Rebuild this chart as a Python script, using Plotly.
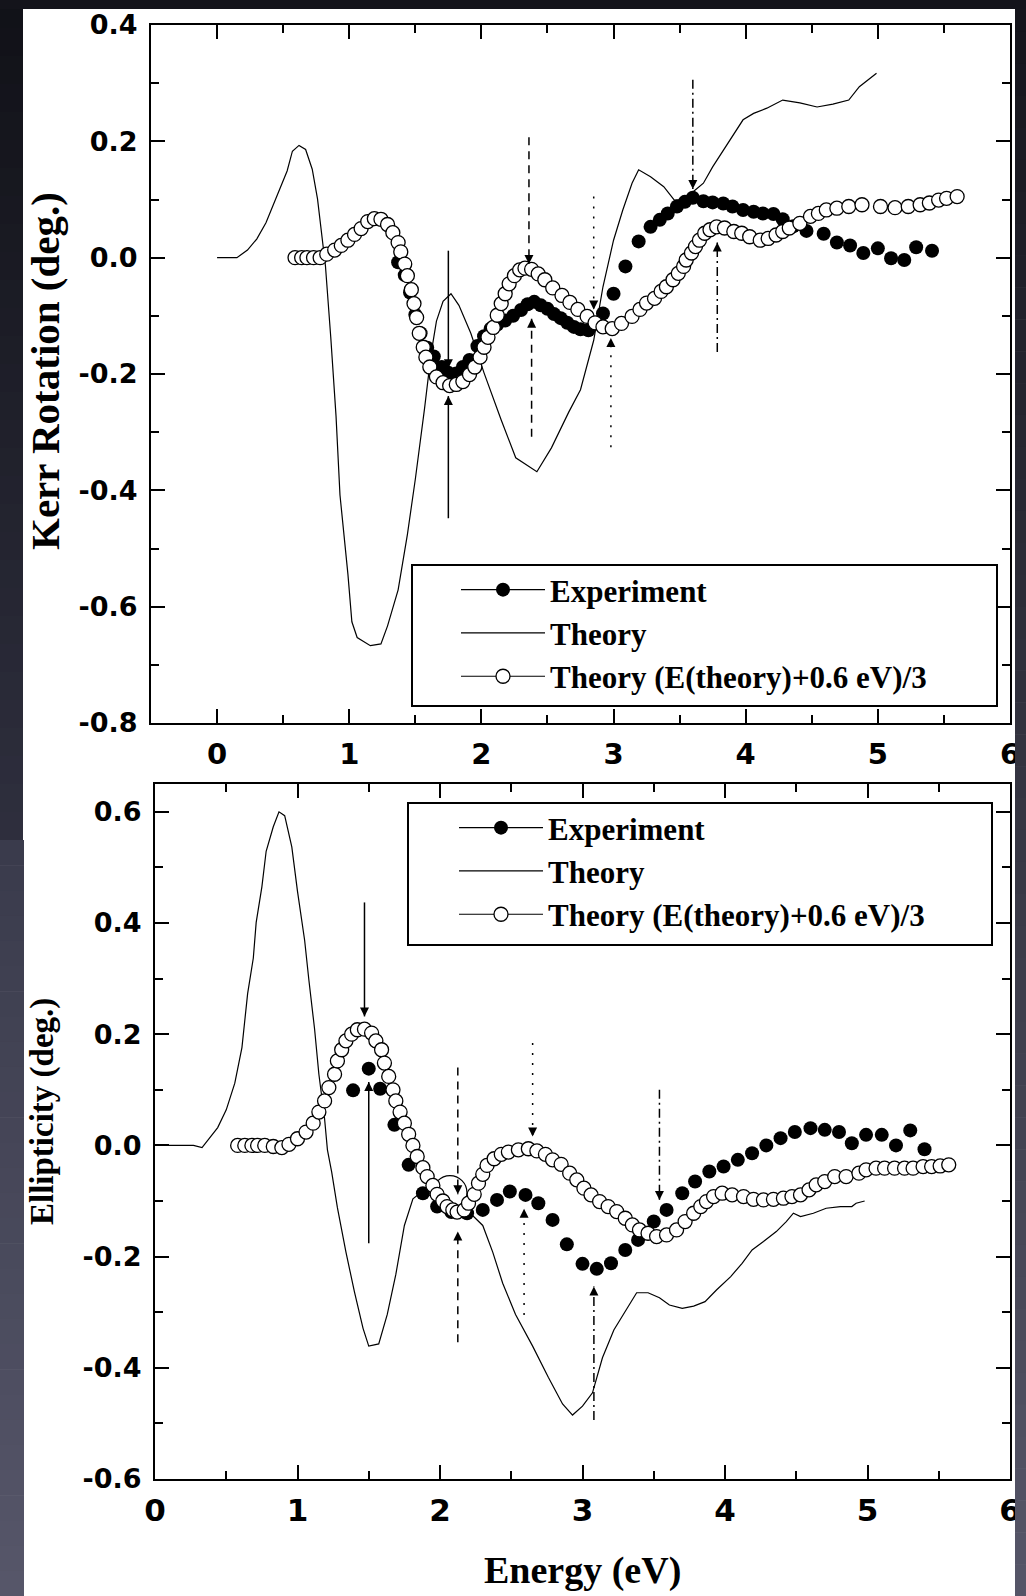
import plotly.graph_objects as go

W, H = 1026, 1596

# ---------------- Kerr rotation (upper panel) ----------------
kerr_theory_e = [0.00, 0.15, 0.23, 0.30, 0.37, 0.45, 0.53, 0.57, 0.62, 0.67,
                 0.72, 0.76, 0.79, 0.82, 0.86, 0.90, 0.93, 0.99, 1.02, 1.06,
                 1.16, 1.24, 1.29, 1.37, 1.44, 1.50, 1.57, 1.62, 1.66, 1.71,
                 1.77, 1.83, 1.92, 2.02, 2.15, 2.26, 2.42, 2.53, 2.66, 2.75,
                 2.85, 2.92, 3.00, 3.07, 3.14, 3.19, 3.28, 3.38, 3.46, 3.53,
                 3.60, 3.68, 3.75, 3.83, 3.91, 3.98, 4.06, 4.16, 4.28, 4.41,
                 4.54, 4.66, 4.78, 4.86, 4.99]
kerr_theory = [0.000, 0.000, 0.013, 0.032, 0.060, 0.105, 0.149, 0.183, 0.193, 0.186,
               0.152, 0.101, 0.047, -0.014, -0.136, -0.272, -0.408, -0.544, -0.626, -0.653,
               -0.667, -0.664, -0.633, -0.571, -0.476, -0.381, -0.259, -0.164, -0.109, -0.075,
               -0.062, -0.082, -0.130, -0.198, -0.279, -0.344, -0.368, -0.327, -0.266, -0.227,
               -0.142, -0.050, 0.030, 0.082, 0.128, 0.151, 0.139, 0.122, 0.099, 0.100,
               0.113, 0.128, 0.156, 0.185, 0.214, 0.237, 0.248, 0.257, 0.271, 0.266,
               0.259, 0.264, 0.271, 0.294, 0.317]

kerr_exp_e = [1.37, 1.42, 1.46, 1.50, 1.54, 1.59, 1.64, 1.70, 1.75, 1.81,
              1.86, 1.91, 1.97, 2.02, 2.07, 2.12, 2.18, 2.24, 2.30, 2.35,
              2.40, 2.45, 2.50, 2.55, 2.60, 2.65, 2.70, 2.75, 2.81, 2.87,
              2.92, 3.00, 3.09, 3.19, 3.28, 3.35, 3.41, 3.48, 3.54, 3.60,
              3.68, 3.75, 3.83, 3.90, 3.98, 4.06, 4.13, 4.21, 4.28, 4.36,
              4.46, 4.59, 4.69, 4.79, 4.89, 5.00, 5.10, 5.20, 5.29, 5.41]
kerr_exp = [-0.008, -0.030, -0.060, -0.098, -0.130, -0.155, -0.170, -0.188, -0.198, -0.199,
            -0.188, -0.176, -0.152, -0.135, -0.122, -0.115, -0.108, -0.100, -0.090, -0.080,
            -0.076, -0.082, -0.088, -0.097, -0.104, -0.112, -0.119, -0.123, -0.125, -0.112,
            -0.096, -0.062, -0.015, 0.028, 0.053, 0.065, 0.076, 0.088, 0.096, 0.103,
            0.097, 0.095, 0.093, 0.088, 0.082, 0.079, 0.076, 0.075, 0.066, 0.054,
            0.046, 0.041, 0.026, 0.021, 0.008, 0.016, -0.001, -0.004, 0.018, 0.012]

kerr_shift_e = [0.59, 0.64, 0.68, 0.73, 0.78, 0.83, 0.89, 0.94, 0.99, 1.04,
                1.09, 1.14, 1.19, 1.24, 1.29, 1.33, 1.37, 1.39, 1.42, 1.44,
                1.47, 1.49, 1.51, 1.53, 1.56, 1.58, 1.61, 1.66, 1.71, 1.76,
                1.81, 1.86, 1.91, 1.95, 1.99, 2.02, 2.05, 2.09, 2.12, 2.15,
                2.18, 2.21, 2.25, 2.29, 2.33, 2.38, 2.43, 2.48, 2.54, 2.61,
                2.67, 2.73, 2.80, 2.86, 2.92, 2.99, 3.06, 3.14, 3.20, 3.25,
                3.31, 3.36, 3.40, 3.45, 3.49, 3.53, 3.55, 3.59, 3.62, 3.65,
                3.69, 3.73, 3.78, 3.84, 3.91, 3.97, 4.03, 4.11, 4.17, 4.23,
                4.28, 4.33, 4.41, 4.49, 4.55, 4.61, 4.69, 4.78, 4.88, 5.02,
                5.13, 5.23, 5.32, 5.39, 5.46, 5.52, 5.60]
kerr_shift = [0.000, 0.000, 0.000, 0.000, 0.000, 0.006, 0.013, 0.021, 0.030, 0.040,
              0.050, 0.062, 0.067, 0.066, 0.057, 0.043, 0.026, 0.010, -0.011, -0.031,
              -0.055, -0.079, -0.103, -0.130, -0.154, -0.171, -0.188, -0.205, -0.215, -0.220,
              -0.218, -0.213, -0.201, -0.188, -0.171, -0.154, -0.137, -0.120, -0.099, -0.079,
              -0.062, -0.045, -0.031, -0.021, -0.018, -0.020, -0.028, -0.038, -0.052, -0.065,
              -0.077, -0.089, -0.101, -0.112, -0.119, -0.122, -0.113, -0.101, -0.089, -0.078,
              -0.070, -0.058, -0.050, -0.038, -0.027, -0.015, -0.004, 0.008, 0.019, 0.030,
              0.042, 0.048, 0.053, 0.051, 0.045, 0.042, 0.036, 0.030, 0.033, 0.039,
              0.045, 0.051, 0.059, 0.071, 0.076, 0.082, 0.085, 0.088, 0.091, 0.088,
              0.086, 0.088, 0.091, 0.094, 0.099, 0.102, 0.105]

# ---------------- Ellipticity (lower panel) ----------------
ell_theory_e = [0.00, 0.27, 0.33, 0.39, 0.44, 0.50, 0.56, 0.61, 0.65, 0.69,
                0.71, 0.75, 0.78, 0.83, 0.87, 0.91, 0.96, 1.00, 1.05, 1.08,
                1.12, 1.15, 1.19, 1.21, 1.24, 1.28, 1.34, 1.40, 1.46, 1.50,
                1.57, 1.63, 1.69, 1.75, 1.81, 1.87, 1.95, 2.04, 2.13, 2.22,
                2.30, 2.37, 2.44, 2.53, 2.65, 2.76, 2.86, 2.93, 3.00, 3.07,
                3.14, 3.22, 3.31, 3.38, 3.46, 3.54, 3.61, 3.70, 3.78, 3.86,
                3.94, 4.04, 4.12, 4.19, 4.27, 4.36, 4.43, 4.48, 4.53, 4.62,
                4.71, 4.81, 4.89, 4.92, 4.98]
ell_theory = [0.000, 0.000, -0.004, 0.016, 0.032, 0.064, 0.112, 0.176, 0.273, 0.337,
              0.401, 0.465, 0.529, 0.573, 0.600, 0.593, 0.537, 0.457, 0.369, 0.297,
              0.209, 0.128, 0.048, -0.008, -0.048, -0.112, -0.192, -0.264, -0.329, -0.361,
              -0.357, -0.304, -0.232, -0.144, -0.096, -0.084, -0.092, -0.104, -0.116, -0.124,
              -0.144, -0.192, -0.248, -0.304, -0.361, -0.417, -0.465, -0.485, -0.469, -0.445,
              -0.382, -0.332, -0.293, -0.265, -0.265, -0.274, -0.287, -0.293, -0.289, -0.281,
              -0.260, -0.236, -0.212, -0.188, -0.173, -0.155, -0.137, -0.122, -0.128, -0.122,
              -0.113, -0.110, -0.110, -0.104, -0.100]

ell_exp_e = [1.39, 1.50, 1.58, 1.68, 1.78, 1.88, 1.98, 2.08, 2.19, 2.30,
             2.40, 2.49, 2.60, 2.69, 2.79, 2.89, 3.00, 3.10, 3.20, 3.30,
             3.39, 3.50, 3.59, 3.70, 3.79, 3.89, 3.99, 4.09, 4.19, 4.29,
             4.39, 4.49, 4.60, 4.70, 4.80, 4.89, 4.99, 5.10, 5.20, 5.30,
             5.40]
ell_exp = [0.099, 0.138, 0.102, 0.037, -0.035, -0.086, -0.110, -0.120, -0.122, -0.116,
           -0.098, -0.083, -0.089, -0.104, -0.134, -0.178, -0.213, -0.222, -0.212, -0.188,
           -0.170, -0.137, -0.116, -0.086, -0.065, -0.047, -0.038, -0.026, -0.014, 0.000,
           0.013, 0.024, 0.031, 0.028, 0.024, 0.004, 0.019, 0.019, 0.000, 0.027,
           -0.007]

ell_shift_e = [0.58, 0.63, 0.68, 0.72, 0.77, 0.83, 0.89, 0.94, 1.00, 1.06,
               1.11, 1.15, 1.19, 1.22, 1.26, 1.28, 1.31, 1.34, 1.38, 1.42,
               1.47, 1.52, 1.55, 1.59, 1.61, 1.64, 1.67, 1.69, 1.72, 1.75,
               1.78, 1.81, 1.84, 1.88, 1.91, 1.95, 1.98, 2.02, 2.05, 2.09,
               2.12, 2.17, 2.20, 2.24, 2.27, 2.30, 2.33, 2.38, 2.43, 2.48,
               2.55, 2.62, 2.68, 2.74, 2.79, 2.85, 2.91, 2.96, 3.01, 3.06,
               3.12, 3.18, 3.24, 3.30, 3.35, 3.40, 3.46, 3.52, 3.59, 3.66,
               3.72, 3.78, 3.83, 3.87, 3.92, 3.98, 4.05, 4.13, 4.20, 4.27,
               4.34, 4.41, 4.47, 4.53, 4.59, 4.64, 4.70, 4.77, 4.85, 4.94,
               4.99, 5.06, 5.12, 5.19, 5.26, 5.32, 5.39, 5.45, 5.51, 5.57]
ell_shift = [0.000, 0.000, 0.000, 0.000, 0.000, -0.002, -0.004, 0.002, 0.012, 0.024,
             0.040, 0.060, 0.080, 0.104, 0.128, 0.152, 0.172, 0.188, 0.200, 0.208,
             0.209, 0.202, 0.188, 0.172, 0.148, 0.124, 0.100, 0.080, 0.060, 0.040,
             0.020, 0.000, -0.020, -0.040, -0.056, -0.072, -0.088, -0.100, -0.110, -0.116,
             -0.120, -0.116, -0.104, -0.088, -0.068, -0.052, -0.036, -0.024, -0.016, -0.012,
             -0.008, -0.006, -0.010, -0.016, -0.026, -0.034, -0.050, -0.062, -0.077, -0.089,
             -0.101, -0.110, -0.119, -0.131, -0.143, -0.152, -0.158, -0.164, -0.161, -0.152,
             -0.137, -0.122, -0.110, -0.101, -0.092, -0.086, -0.089, -0.092, -0.097, -0.098,
             -0.097, -0.095, -0.092, -0.089, -0.080, -0.071, -0.065, -0.056, -0.056, -0.050,
             -0.044, -0.041, -0.041, -0.041, -0.041, -0.041, -0.038, -0.038, -0.037, -0.035]

# Feature arrows: energy (eV), tail and head (deg.)
kerr_mark_e = [1.75, 1.75, 2.36, 2.38, 2.85, 2.98, 3.60, 3.785]
kerr_mark_tail = [0.012, -0.448, 0.207, -0.308, 0.105, -0.326, 0.306, -0.162]
kerr_mark_head = [-0.190, -0.238, -0.011, -0.105, -0.089, -0.138, 0.118, 0.026]
ell_mark_e = [1.47, 1.50, 2.125, 2.125, 2.65, 2.59, 3.54, 3.08]
ell_mark_tail = [0.437, -0.176, 0.140, -0.354, 0.184, -0.305, 0.100, -0.494]
ell_mark_head = [0.232, 0.114, -0.088, -0.155, 0.016, -0.114, -0.098, -0.254]

# Highlight ring around the ellipticity crossing near 2.07 eV
ell_ring_e = 2.07
ell_ring_val = -0.085

# Tick labels
x_tick_vals = [0, 1, 2, 3, 4, 5, 6]
x_tick_text = ["0", "1", "2", "3", "4", "5", "6"]
kerr_tick_vals = [-0.8, -0.6, -0.4, -0.2, 0.0, 0.2, 0.4]
kerr_tick_text = ["-0.8", "-0.6", "-0.4", "-0.2", "0.0", "0.2", "0.4"]
ell_tick_vals = [-0.6, -0.4, -0.2, 0.0, 0.2, 0.4, 0.6]
ell_tick_text = ["-0.6", "-0.4", "-0.2", "0.0", "0.2", "0.4", "0.6"]

series_names = ["Experiment", "Theory", "Theory (E(theory)+0.6 eV)/3"]

# ---------------- styles ----------------
MARK_DASH = ["solid", "solid", "8px,6px", "8px,6px", "2px,8px", "2px,8px",
             "9px,4px,2px,4px", "9px,4px,2px,4px"]
SANS = "DejaVu Sans"
SERIF = "Liberation Serif"
MSIZE = 14
filled = dict(symbol="circle", size=MSIZE, color="black", line=dict(width=0))
hollow = dict(symbol="circle", size=MSIZE, color="white", line=dict(color="black", width=1.3))
thin = dict(color="black", width=1.2)


def px_x(v):
    return v / W


def px_y(v):
    return 1 - v / H


fig = go.Figure()

panels = [
    ("x", "y", "legend", kerr_theory_e, kerr_theory, kerr_exp_e, kerr_exp, kerr_shift_e, kerr_shift),
    ("x2", "y2", "legend2", ell_theory_e, ell_theory, ell_exp_e, ell_exp, ell_shift_e, ell_shift),
]
for xa, ya, lg, te, tv, ee, ev, se, sv in panels:
    fig.add_trace(go.Scatter(x=te, y=tv, mode="lines", line=thin, xaxis=xa, yaxis=ya,
                             showlegend=False, hoverinfo="skip"))
    fig.add_trace(go.Scatter(x=ee, y=ev, mode="markers", marker=filled, xaxis=xa, yaxis=ya,
                             showlegend=False))
    fig.add_trace(go.Scatter(x=se, y=sv, mode="markers", marker=hollow, xaxis=xa, yaxis=ya,
                             showlegend=False))
    # legend keys
    fig.add_trace(go.Scatter(x=[None], y=[None], mode="lines+markers", marker=filled,
                             line=thin, name=series_names[0], legend=lg, xaxis=xa, yaxis=ya))
    fig.add_trace(go.Scatter(x=[None], y=[None], mode="lines", line=thin,
                             name=series_names[1], legend=lg, xaxis=xa, yaxis=ya))
    fig.add_trace(go.Scatter(x=[None], y=[None], mode="lines+markers", marker=hollow,
                             line=thin, name=series_names[2], legend=lg, xaxis=xa, yaxis=ya))

shapes = []
annotations = []

# feature arrows
for xr, yr, me, mt, mh in [("x", "y", kerr_mark_e, kerr_mark_tail, kerr_mark_head),
                           ("x2", "y2", ell_mark_e, ell_mark_tail, ell_mark_head)]:
    for i, (e, t, h) in enumerate(zip(me, mt, mh)):
        shapes.append(dict(type="line", xref=xr, yref=yr, x0=e, x1=e, y0=t, y1=h,
                           line=dict(color="black", width=1.5, dash=MARK_DASH[i]), layer="above"))
        annotations.append(dict(xref=xr, yref=yr, x=e, y=h, text="", showarrow=True,
                                ax=0, ay=-9 if t > h else 9, arrowhead=2, arrowsize=1.2,
                                arrowwidth=1.5, arrowcolor="black"))

# ring (pixel sized, anchored in data coordinates)
shapes.append(dict(type="circle", xref="x2", yref="y2", xsizemode="pixel", ysizemode="pixel",
                   xanchor=ell_ring_e, yanchor=ell_ring_val, x0=-17, x1=17, y0=-17, y1=17,
                   line=dict(color="black", width=1.2), layer="below"))

# legend frames
for x0, y0, x1, y1 in [(412, 565, 997, 706), (408, 803, 992, 945)]:
    shapes.append(dict(type="rect", xref="paper", yref="paper", x0=px_x(x0), x1=px_x(x1),
                       y0=px_y(y1), y1=px_y(y0), fillcolor="white",
                       line=dict(color="black", width=2), layer="above"))


# dark scan border
def lerp(c0, c1, t):
    return "rgb(%d,%d,%d)" % tuple(round(a + (b - a) * t) for a, b in zip(c0, c1))


def band(x0, x1, y0, y1, c0, c1, steps=40):
    out = []
    for k in range(steps):
        ya = y0 + (y1 - y0) * k / steps
        yb = y0 + (y1 - y0) * (k + 1) / steps + 0.6
        out.append(dict(type="rect", xref="paper", yref="paper", x0=px_x(x0), x1=px_x(x1),
                        y0=px_y(min(yb, y1)), y1=px_y(ya), fillcolor=lerp(c0, c1, (k + 0.5) / steps),
                        line=dict(width=0), layer="above"))
    return out


shapes += band(0, 23, 0, 840, (17, 17, 23), (46, 47, 62), 30)
shapes += band(0, 24, 840, H, (58, 59, 75), (86, 86, 106), 30)
shapes += band(1015, W, 0, H, (20, 20, 27), (86, 86, 104), 50)
shapes.append(dict(type="rect", xref="paper", yref="paper", x0=0, x1=1, y0=px_y(9), y1=1,
                   fillcolor="rgb(20,20,27)", line=dict(width=0), layer="above"))

# axis titles
title_font = dict(family=SERIF, color="black", weight="bold")
annotations.append(dict(xref="paper", yref="paper", x=px_x(45), y=px_y(371), text="Kerr Rotation (deg.)",
                        textangle=-90, showarrow=False, font=dict(size=41, **title_font),
                        xanchor="center", yanchor="middle"))
annotations.append(dict(xref="paper", yref="paper", x=px_x(42), y=px_y(1112), text="Ellipticity (deg.)",
                        textangle=-90, showarrow=False, font=dict(size=33, **title_font),
                        xanchor="center", yanchor="middle"))
annotations.append(dict(xref="paper", yref="paper", x=px_x(582), y=px_y(1594), text="Energy (eV)",
                        showarrow=False, font=dict(size=38, **title_font),
                        xanchor="center", yanchor="bottom"))

axis_common = dict(showgrid=False, zeroline=False, showline=True, linecolor="black", linewidth=2,
                   mirror="ticks", ticks="inside", ticklen=14, tickwidth=2, tickcolor="black",
                   automargin=False)


def minor(dt):
    return dict(dtick=dt, tick0=0, ticks="inside", ticklen=8, tickwidth=1.5, tickcolor="black")


tick_font = dict(family=SANS, color="black", weight="bold")

legend_common = dict(bgcolor="rgba(0,0,0,0)", borderwidth=0, xanchor="left", yanchor="top",
                     font=dict(family=SERIF, size=31, color="black", weight="bold"),
                     itemwidth=84, traceorder="normal")

fig.update_layout(
    template="none",
    width=W, height=H, margin=dict(l=0, r=0, t=0, b=0, pad=0), autosize=False,
    paper_bgcolor="white", plot_bgcolor="white",
    xaxis=dict(domain=[px_x(151), px_x(1010)], anchor="y", range=[-0.5, 6.0],
               tickvals=x_tick_vals, ticktext=x_tick_text, minor=minor(0.5),
               tickfont=dict(size=29, **tick_font), ticklabelstandoff=4, **axis_common),
    yaxis=dict(domain=[px_y(723), px_y(25)], anchor="x", range=[-0.8, 0.4],
               tickvals=kerr_tick_vals, ticktext=kerr_tick_text, minor=minor(0.1),
               tickfont=dict(size=27, **tick_font), ticklabelstandoff=6, **axis_common),
    xaxis2=dict(domain=[px_x(155), px_x(1010)], anchor="y2", range=[0, 6.0],
                tickvals=x_tick_vals, ticktext=x_tick_text, minor=minor(0.5),
                tickfont=dict(size=31, **tick_font), ticklabelstandoff=3, **axis_common),
    yaxis2=dict(domain=[px_y(1479), px_y(784)], anchor="x2", range=[-0.6, 0.65],
                tickvals=ell_tick_vals, ticktext=ell_tick_text, minor=minor(0.1),
                tickfont=dict(size=27, **tick_font), ticklabelstandoff=6, **axis_common),
    legend=dict(x=px_x(456), y=px_y(563), **legend_common),
    legend2=dict(x=px_x(454), y=px_y(801), **legend_common),
    shapes=shapes, annotations=annotations,
)

fig.write_html("out.html")
